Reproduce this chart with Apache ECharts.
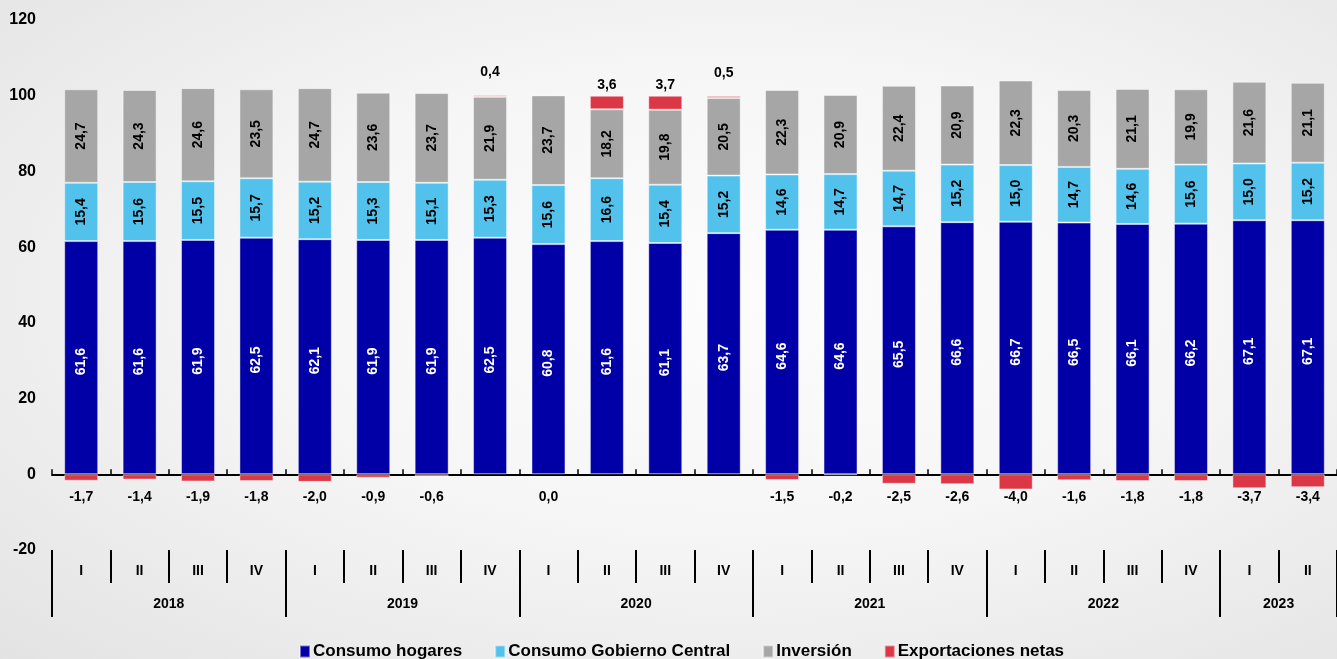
<!DOCTYPE html>
<html>
<head>
<meta charset="utf-8">
<script src="https://cdn.jsdelivr.net/npm/echarts@6/dist/echarts.min.js"></script>
<style>
  html, body { margin: 0; padding: 0; }
  body {
    width: 1337px;
    height: 659px;
    background: radial-gradient(ellipse at 55% 45%, #fcfcfc 0%, #f6f6f6 45%, #e3e3e3 100%);
  }
  #chart { width: 1337px; height: 659px; }
</style>
</head>
<body>
<div id="chart"></div>
<script>
// quarters 2018 I .. 2023 II
const quarters = ['I', 'II', 'III', 'IV', 'I', 'II', 'III', 'IV', 'I', 'II', 'III', 'IV',
  'I', 'II', 'III', 'IV', 'I', 'II', 'III', 'IV', 'I', 'II']
const categories = quarters.map((q, i) => `${2018 + Math.floor(i / 4)} ${q}`)

const years = ['2018', '2019', '2020', '2021', '2022', '2023']
const yearBounds = [0, 4, 8, 12, 16, 20, 22]

const consumoHogares = [61.6, 61.6, 61.9, 62.5, 62.1, 61.9, 61.9, 62.5, 60.8, 61.6, 61.1, 63.7,
  64.6, 64.6, 65.5, 66.6, 66.7, 66.5, 66.1, 66.2, 67.1, 67.1]
const consumoGobierno = [15.4, 15.6, 15.5, 15.7, 15.2, 15.3, 15.1, 15.3, 15.6, 16.6, 15.4, 15.2,
  14.6, 14.7, 14.7, 15.2, 15.0, 14.7, 14.6, 15.6, 15.0, 15.2]
const inversion = [24.7, 24.3, 24.6, 23.5, 24.7, 23.6, 23.7, 21.9, 23.7, 18.2, 19.8, 20.5,
  22.3, 20.9, 22.4, 20.9, 22.3, 20.3, 21.1, 19.9, 21.6, 21.1]
const exportacionesNetas = [-1.7, -1.4, -1.9, -1.8, -2.0, -0.9, -0.6, 0.4, 0.0, 3.6, 3.7, 0.5,
  -1.5, -0.2, -2.5, -2.6, -4.0, -1.6, -1.8, -1.8, -3.7, -3.4]

const yTicks = { min: -20, max: 120, interval: 20 }

const COLORS = {
  hogares: '#0000a6',
  gobierno: '#52c2ec',
  inversion: '#a6a6a6',
  exportaciones: '#db3747'
}

const FONT = 'Liberation Sans, Arial, sans-serif'
const fmt = (v) => v.toFixed(1).replace('.', ',')

const gridBox = { left: 52, width: 1291, top: 20, bottom: 109 }
// zero line sits at y = 474, used by the row of negative export labels
const zeroRowBox = { left: 52, width: 1291, top: 20, bottom: 185 }

const boldText = (size) => ({ color: '#000', fontWeight: 'bold', fontSize: size, fontFamily: FONT })

const insideLabel = (color) => ({
  show: true,
  position: 'inside',
  rotate: 90,
  ...boldText(14),
  color,
  formatter: (p) => fmt(p.value)
})

const barBase = {
  type: 'bar',
  stack: 'total',
  barWidth: 34,
  xAxisIndex: 0,
  yAxisIndex: 0,
  itemStyle: { borderColor: 'rgba(255,255,255,0.45)', borderWidth: 1 }
}

const yearMid = years.map((y, i) => (yearBounds[i] + yearBounds[i + 1]) / 2)

const chart = echarts.init(document.getElementById('chart'))

chart.setOption({
  animation: false,
  backgroundColor: 'transparent',
  textStyle: { fontFamily: FONT },
  grid: [
    { ...gridBox },
    { ...gridBox },
    { ...gridBox },
    { ...zeroRowBox }
  ],
  xAxis: [
    {
      type: 'category',
      gridIndex: 0,
      data: categories,
      axisLine: { onZero: true, lineStyle: { color: '#000', width: 2 } },
      axisTick: { show: true, inside: true, length: 5, lineStyle: { color: '#000', width: 1.5 } },
      axisLabel: { show: false }
    },
    {
      type: 'category',
      gridIndex: 1,
      position: 'bottom',
      data: categories,
      axisLine: { show: false, onZero: false },
      axisTick: { show: true, length: 33, interval: 0, lineStyle: { color: '#000', width: 2 } },
      axisLabel: {
        margin: 14,
        interval: 0,
        ...boldText(14),
        formatter: (value, index) => quarters[index]
      }
    },
    {
      type: 'value',
      gridIndex: 2,
      position: 'bottom',
      min: 0,
      max: 22,
      splitLine: { show: false },
      axisLine: { show: false, onZero: false },
      axisTick: {
        show: true,
        length: 67,
        customValues: yearBounds,
        lineStyle: { color: '#000', width: 2 }
      },
      axisLabel: {
        margin: 47,
        ...boldText(14),
        customValues: yearMid,
        formatter: (value) => {
          const i = yearMid.indexOf(value)
          return i >= 0 ? years[i] : ''
        }
      }
    },
    {
      type: 'category',
      gridIndex: 3,
      position: 'bottom',
      data: categories,
      axisLine: { show: false, onZero: false },
      axisTick: { show: false },
      axisLabel: {
        margin: 16,
        interval: 0,
        ...boldText(14),
        formatter: (value, index) => (exportacionesNetas[index] <= 0 ? fmt(exportacionesNetas[index]) : '')
      }
    }
  ],
  yAxis: [
    {
      type: 'value',
      gridIndex: 0,
      min: yTicks.min,
      max: yTicks.max,
      interval: yTicks.interval,
      splitLine: { show: false },
      axisLine: { show: false },
      axisTick: { show: false },
      axisLabel: { margin: 16, ...boldText(16) }
    },
    { type: 'value', gridIndex: 1, show: false },
    { type: 'value', gridIndex: 2, show: false },
    { type: 'value', gridIndex: 3, show: false }
  ],
  legend: {
    top: 638,
    left: 294,
    icon: 'rect',
    itemWidth: 10,
    itemHeight: 12,
    itemGap: 32,
    textStyle: { ...boldText(17), padding: [0, 0, 0, -2] },
    data: ['Consumo hogares', 'Consumo Gobierno Central', 'Inversión', 'Exportaciones netas']
  },
  series: [
    {
      ...barBase,
      name: 'Consumo hogares',
      data: consumoHogares,
      itemStyle: { ...barBase.itemStyle, color: COLORS.hogares },
      label: { ...insideLabel('#fff'), offset: [-4, 0] }
    },
    {
      ...barBase,
      name: 'Consumo Gobierno Central',
      data: consumoGobierno,
      itemStyle: { ...barBase.itemStyle, color: COLORS.gobierno },
      label: insideLabel('#000')
    },
    {
      ...barBase,
      name: 'Inversión',
      data: inversion,
      itemStyle: { ...barBase.itemStyle, color: COLORS.inversion },
      label: insideLabel('#000')
    },
    {
      ...barBase,
      name: 'Exportaciones netas',
      // thin positive slivers carry their label a little higher, as in the source
      data: exportacionesNetas.map((v) => ({ value: v, label: { distance: v > 0 && v < 1 ? 16 : 4 } })),
      itemStyle: { ...barBase.itemStyle, color: COLORS.exportaciones },
      label: {
        show: true,
        position: 'top',
        ...boldText(14),
        formatter: (p) => (p.value > 0 ? fmt(p.value) : '')
      }
    }
  ]
})
</script>
</body>
</html>
